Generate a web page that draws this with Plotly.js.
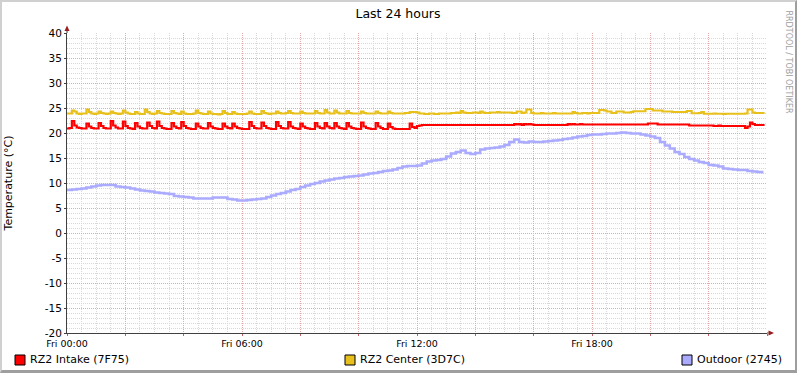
<!DOCTYPE html>
<html><head><meta charset="utf-8">
<script src="https://cdn.plot.ly/plotly-3.0.1.min.js"></script>
<style>
html,body{margin:0;padding:0;background:#fff}
#wrap{position:relative;width:797px;height:373px}
#chart{width:797px;height:373px}
#frame{position:absolute;left:0;top:0;width:797px;height:373px;box-sizing:border-box;border-left:2px solid #d0d0d0;border-top:2px solid #d0d0d0;border-right:2px solid #9e9e9e;border-bottom:3px solid #9e9e9e;pointer-events:none}
</style>
</head><body>
<div id="wrap"><div id="chart"></div><div id="frame"></div></div>
<script>
// ---- data ----
const chartTitle = 'Last 24 hours';
const yTitle = 'Temperature (°C)';
const seriesNames = ['RZ2 Intake (7F75)', 'RZ2 Center (3D7C)', 'Outdoor (2745)'];
const seriesColors = ['#ff0000', '#e8c01c', '#aaaaff'];
const startTime = Date.UTC(2024, 0, 5, 0, 0); // a Friday
const fineStepMin = 5;    // intake / center sampling
const coarseStepMin = 10; // outdoor sampling

const intake = [
20.9,21.0,22.4,21.5,21.1,21.0,20.9,20.9,21.9,21.3,21.0,20.9,
20.9,22.0,21.4,21.0,20.9,20.9,22.4,21.5,21.1,20.9,20.9,22.3,
21.4,21.0,20.9,20.8,22.0,21.3,21.0,20.9,20.9,22.1,21.4,21.0,
20.9,22.3,21.4,21.0,20.9,20.8,20.8,22.0,21.3,21.0,20.9,22.2,
21.4,21.0,20.9,20.8,20.8,21.9,21.3,21.0,20.9,20.9,22.0,21.3,
21.0,20.9,20.8,20.8,21.9,21.3,21.0,20.9,21.9,21.3,21.0,20.9,
20.8,20.8,20.8,22.2,21.4,21.0,20.9,20.9,22.1,21.4,21.0,20.9,
20.8,20.8,22.2,21.4,21.0,20.9,20.9,22.2,21.3,21.0,20.9,20.8,
21.9,21.3,21.0,20.9,20.8,20.8,22.0,21.3,21.0,20.9,22.0,21.3,
21.0,20.9,22.0,21.3,21.0,20.9,20.8,22.0,21.3,21.0,20.9,20.8,
20.8,22.1,21.3,21.0,20.9,20.8,20.8,22.0,21.3,21.0,20.8,20.8,
21.9,21.2,20.9,20.8,20.8,20.8,20.8,20.8,20.8,21.9,21.2,21.0,
21.4,21.5,21.6,21.6,21.6,21.6,21.6,21.6,21.6,21.6,21.6,21.6,
21.6,21.6,21.6,21.6,21.6,21.6,21.6,21.6,21.6,21.6,21.6,21.6,
21.6,21.6,21.6,21.6,21.6,21.6,21.6,21.6,21.6,21.6,21.6,21.6,
21.6,21.6,21.6,21.6,21.8,21.7,21.8,21.6,21.8,21.7,21.8,21.7,
21.6,21.6,21.6,21.6,21.6,21.6,21.6,21.6,21.6,21.6,21.6,21.6,
21.6,21.6,21.8,21.7,21.8,21.7,21.7,21.8,21.7,21.7,21.7,21.7,
21.7,21.7,21.7,21.7,21.7,21.7,21.7,21.7,21.7,21.7,21.7,21.7,
21.7,21.7,21.7,21.7,21.7,21.7,21.7,21.7,21.7,21.7,21.7,21.9,
21.9,21.9,21.9,21.7,21.7,21.7,21.7,21.7,21.7,21.7,21.7,21.7,
21.7,21.7,21.7,21.7,21.5,21.5,21.5,21.5,21.5,21.5,21.5,21.5,
21.5,21.5,21.4,21.4,21.5,21.4,21.4,21.4,21.4,21.4,21.4,21.4,
21.4,21.4,21.4,21.0,21.3,22.1,21.8,21.6,21.6,21.6,21.6,21.6
];

const center = [
23.9,23.9,24.5,24.3,23.9,23.8,23.9,23.9,24.7,24.2,23.9,23.8,
23.9,24.3,24.0,23.9,23.8,23.9,24.3,24.0,23.9,23.8,23.9,24.5,
24.1,23.9,23.8,23.8,24.2,23.9,23.8,23.8,24.7,24.2,23.9,23.8,
23.9,24.4,24.0,23.9,23.8,23.8,23.8,24.4,24.0,23.9,23.8,24.3,
23.9,23.8,23.8,23.8,23.9,24.5,24.0,23.9,23.8,23.8,24.3,23.9,
23.8,23.8,23.7,23.8,24.4,24.0,23.8,23.8,24.2,23.9,23.8,23.8,
23.8,23.8,23.9,24.3,23.9,23.8,23.8,23.8,24.4,24.0,23.9,23.8,
23.9,23.9,24.3,24.0,23.9,23.9,24.0,24.4,24.0,23.9,23.9,23.9,
24.3,24.0,23.9,23.9,23.9,23.9,24.4,24.0,23.9,23.9,24.6,24.1,
23.9,23.9,24.5,24.1,23.9,23.9,23.9,24.4,24.0,23.9,23.9,23.9,
23.9,24.3,24.0,23.9,23.9,23.9,23.9,24.3,24.0,23.9,23.9,23.9,
24.3,24.0,23.9,23.9,23.9,23.9,23.9,24.0,24.0,24.2,24.2,24.2,
24.1,23.9,23.9,23.8,23.8,23.9,23.9,23.8,23.8,23.9,23.9,23.9,
23.9,23.9,24.0,24.0,24.1,24.0,24.4,24.1,24.0,24.0,24.0,24.1,
24.1,24.0,24.3,24.1,24.0,24.0,24.1,24.1,24.1,24.2,24.1,24.1,
24.1,24.1,24.1,24.0,24.0,24.3,24.3,24.0,24.1,24.7,24.7,24.0,
23.9,23.9,23.9,24.0,23.9,23.9,23.9,23.9,24.0,23.9,23.9,23.9,
23.9,23.9,23.9,23.9,24.2,24.0,23.9,23.9,24.0,24.0,23.9,24.0,
24.0,24.0,24.0,24.6,24.6,24.5,24.3,24.3,24.0,24.0,24.3,24.3,
24.3,24.1,24.1,24.1,24.2,24.35,24.35,24.35,24.35,24.35,24.8,24.8,
24.8,24.5,24.5,24.5,24.5,24.3,24.3,24.3,24.3,24.2,24.2,24.2,
24.2,24.2,24.2,24.4,24.4,23.95,23.95,23.95,24.0,24.2,23.85,23.85,
23.85,23.85,23.9,23.85,23.85,23.85,23.8,23.85,23.85,23.85,23.85,23.85,
23.85,23.85,23.85,23.9,24.7,24.7,24.1,24.0,24.0,24.0,24.0,24.0
];

const outdoor = [
8.6,8.7,8.8,8.9,9.1,9.3,
9.5,9.6,9.6,9.6,9.3,9.2,
9.1,8.9,8.7,8.5,8.4,8.3,
8.1,8.0,7.9,7.8,7.4,7.3,
7.2,7.1,6.9,6.9,6.9,6.9,
7.1,7.1,7.1,6.8,6.7,6.5,
6.5,6.6,6.7,6.8,6.9,7.2,
7.5,7.8,8.0,8.3,8.6,8.8,
9.2,9.5,9.8,10.0,10.3,10.5,
10.7,10.9,11.0,11.2,11.3,11.4,
11.5,11.7,11.9,12.0,12.2,12.4,
12.5,12.7,13.0,13.3,13.4,13.4,
13.5,13.9,14.3,14.5,14.6,14.8,
15.3,15.9,16.2,16.5,16.0,15.8,
16.0,16.7,16.9,17.0,17.1,17.3,
17.6,18.2,18.7,18.2,18.1,18.3,
18.2,18.2,18.3,18.4,18.5,18.6,
18.8,18.9,19.1,19.3,19.4,19.6,
19.7,19.7,19.8,19.9,19.9,20.0,
20.1,20.0,19.9,19.9,19.7,19.5,
19.3,19.0,18.2,17.5,16.9,16.2,
15.8,15.2,14.8,14.5,14.2,14.0,
13.6,13.5,13.3,12.9,12.8,12.7,
12.6,12.6,12.4,12.3,12.2,11.9
];

const xTickHours = [0,2,4,6,8,10,12,14,16,18,20,22,24];
const xTickLabels = ['Fri 00:00','','','Fri 06:00','','','Fri 12:00','','','Fri 18:00','','',''];
const yTicks = [-20,-15,-10,-5,0,5,10,15,20,25,30,35,40];

// ---- build ----
const HOUR = 3600000, MIN = 60000;
const tFine = intake.map((_, i) => startTime + i * fineStepMin * MIN);
const tCoarse = outdoor.map((_, i) => startTime + i * coarseStepMin * MIN);

const L = 67, T = 33, W = 700, H = 300;
const px = p => (p - L) / W;        // pixel x -> paper
const py = p => (T + H - p) / H;    // pixel y -> paper

const font = 'DejaVu Sans, Verdana, sans-serif';
const mk = (x, y, i, w) => ({
  x: x, y: y, type: 'scatter', mode: 'lines', name: seriesNames[i],
  line: {color: seriesColors[i], width: w, shape: 'hv'}, showlegend: false, hoverinfo: 'skip'
});
const traces = [mk(tFine, intake, 0, 2.2), mk(tFine, center, 1, 2.2), mk(tCoarse, outdoor, 2, 2.6)];

const axisCol = '#404040', arrowCol = '#9a1c1c';
const shapes = [
  {type:'line', xref:'paper', yref:'paper', x0:0, x1:0, y0:1, y1:py(31), line:{color:axisCol, width:1}},
  {type:'path', xref:'paper', yref:'paper', path:`M ${px(64.5)} ${py(31)} L ${px(69.5)} ${py(31)} L ${px(67)} ${py(25.5)} Z`, fillcolor:arrowCol, line:{width:0}},
  {type:'line', xref:'paper', yref:'paper', x0:1, x1:px(768.5), y0:0, y1:0, line:{color:axisCol, width:1}},
  {type:'path', xref:'paper', yref:'paper', path:`M ${px(768.5)} ${py(330.5)} L ${px(768.5)} ${py(335.5)} L ${px(774)} ${py(333)} Z`, fillcolor:arrowCol, line:{width:0}}
];
const annotations = [
  {xref:'paper', yref:'paper', x:px(788.5), y:py(62), text:'RRDTOOL / TOBI OETIKER', textangle:90, showarrow:false,
   font:{family:font, size:8, color:'#a0a0a0'}, xanchor:'center', yanchor:'middle'}
];
const legX = [15, 345, 682];
seriesNames.forEach((n, i) => {
  shapes.push({type:'rect', xref:'paper', yref:'paper', x0:px(legX[i]), x1:px(legX[i] + 10), y0:py(365), y1:py(355),
    fillcolor: seriesColors[i], line:{color:'#000', width:1}});
  annotations.push({xref:'paper', yref:'paper', x:px(legX[i] + 13), y:py(359.5), text:n, showarrow:false,
    xanchor:'left', yanchor:'middle', font:{family:font, size:11, color:'#000'}});
});

const layout = {
  width: 797, height: 373,
  margin: {l: L, r: 797 - L - W, t: T, b: 373 - T - H, pad: 0},
  paper_bgcolor: '#ffffff', plot_bgcolor: '#ffffff',
  font: {family: font, color: '#000'},
  title: {text: chartTitle, font: {family: font, size: 12.5, color: '#000'},
          xref: 'container', yref: 'container', x: 398 / 797, y: 1 - 13.5 / 373, xanchor: 'center', yanchor: 'middle'},
  showlegend: false,
  xaxis: {
    type: 'date', range: [startTime, startTime + 24 * HOUR], fixedrange: true,
    tickmode: 'array', tickvals: xTickHours.map(h => startTime + h * HOUR), ticktext: xTickLabels,
    tickfont: {family: font, size: 9.5, color: '#000'},
    ticks: 'outside', ticklen: 2, tickcolor: '#c06060',
    showgrid: true, gridcolor: '#e8a8a8', griddash: '1px,1px', gridwidth: 1,
    minor: {tickmode: 'linear', tick0: startTime, dtick: 30 * MIN, showgrid: true, gridcolor: '#d8d8d8', griddash: '1px,1px', ticks: ''},
    showline: true, linecolor: axisCol, linewidth: 1, zeroline: false, automargin: false
  },
  yaxis: {
    range: [-20, 40], fixedrange: true,
    tickmode: 'array', tickvals: yTicks, ticktext: yTicks.map(String),
    tickfont: {family: font, size: 10.5, color: '#000'},
    ticks: 'outside', ticklen: 2, tickcolor: axisCol,
    showgrid: true, gridcolor: '#e8a8a8', griddash: '1px,1px', gridwidth: 1,
    minor: {tickmode: 'linear', tick0: 0, dtick: 1, showgrid: true, gridcolor: '#d8d8d8', griddash: '1px,1px', ticks: ''},
    showline: true, linecolor: axisCol, linewidth: 1, zeroline: false, automargin: false,
    title: {text: yTitle, font: {family: font, size: 11, color: '#000'}, standoff: 29}
  },
  shapes: shapes,
  annotations: annotations
};

Plotly.newPlot('chart', traces, layout, {displayModeBar: false, staticPlot: true});
</script>
</body></html>
